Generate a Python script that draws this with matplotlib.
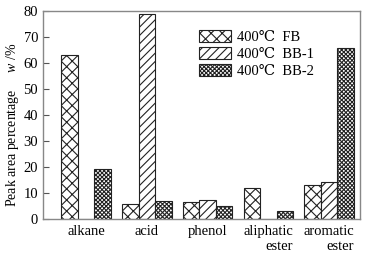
import numpy as np
import matplotlib.pyplot as plt

plt.rcParams['font.family'] = ['Liberation Serif', 'DejaVu Serif']
plt.rcParams['mathtext.fontset'] = 'custom'
plt.rcParams['mathtext.it'] = 'Liberation Serif:italic'
plt.rcParams['mathtext.rm'] = 'Liberation Serif'
plt.rcParams['hatch.linewidth'] = 0.8

categories = ['alkane', 'acid', 'phenol', 'aliphatic\nester', 'aromatic\nester']
series = ['400℃  FB', '400℃  BB-1', '400℃  BB-2']
fb = [63.0, 5.8, 6.4, 11.8, 13.2]
bb1 = [0.0, 79.0, 7.3, 0.0, 14.2]
bb2 = [19.2, 6.8, 5.1, 3.2, 65.8]
hatches = ['xxx', '////', 'xxxxxxxx']

fig = plt.figure(figsize=(3.68, 2.54), dpi=100)
ax = fig.add_axes([43 / 368, 1 - 219 / 254, 317 / 368, 208 / 254])

x = np.arange(len(categories))
w = 0.272
for i, (vals, h, lab) in enumerate(zip([fb, bb1, bb2], hatches, series)):
    ax.bar(x + (i - 1) * w, vals, w, facecolor='white', edgecolor='#222222',
           hatch=h, linewidth=0.8, label=lab)

ax.set_xlim(-0.71, 4.51)
ax.set_ylim(0, 80)
ax.set_yticks(range(0, 81, 10))
ax.set_xticks(x)
ax.set_xticklabels(categories, multialignment='right')
ax.tick_params(axis='y', direction='in', length=4, labelsize=10.5, color='#555555')
ax.tick_params(axis='x', length=0, labelsize=10.5, pad=4)
for s in ax.spines.values():
    s.set_color('#888888')
    s.set_linewidth(1.0)

ax.set_ylabel('Peak area percentage     $w$ /%', fontsize=10)
ax.yaxis.set_label_coords(-0.07, 0.45)

ax.legend(loc='upper left', bbox_to_anchor=(0.45, 0.97), frameon=False,
          fontsize=10.5, handlelength=2.2, handleheight=0.9,
          handletextpad=0.4, labelspacing=0.2)

fig.savefig('out.png', dpi=100)
plt.close()
